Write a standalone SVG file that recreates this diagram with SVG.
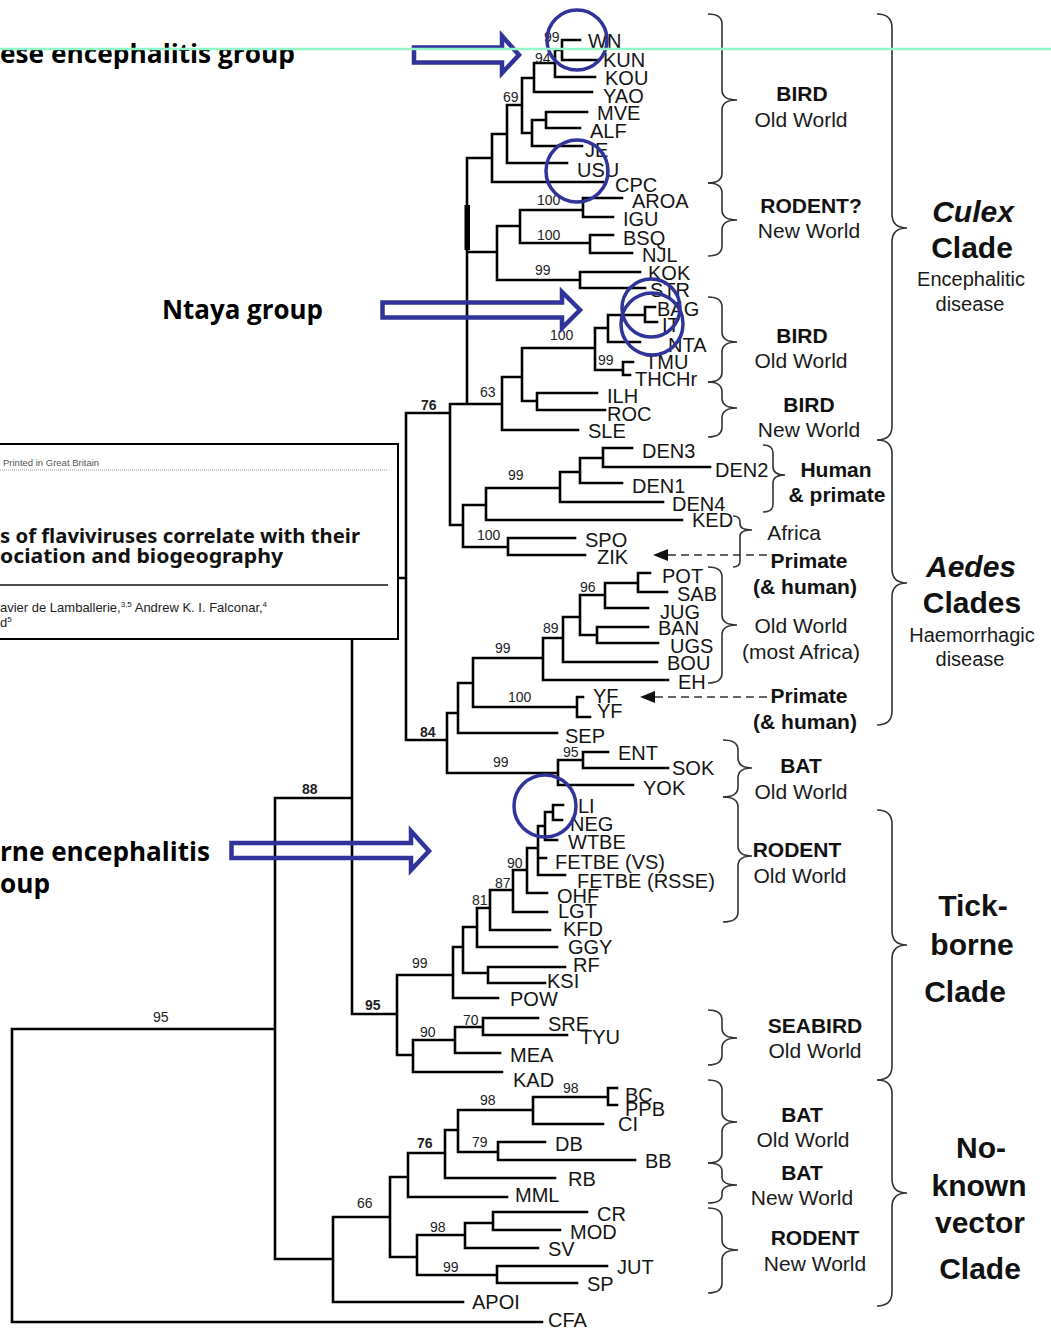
<svg xmlns="http://www.w3.org/2000/svg" width="1051" height="1329" viewBox="0 0 1051 1329">
<style>
.t{font-family:"Liberation Sans",Arial,sans-serif;font-size:20px;fill:#151515}
.s{font-family:"Liberation Sans",Arial,sans-serif;font-size:14px;fill:#222}
.sb{font-family:"Liberation Sans",Arial,sans-serif;font-size:14px;font-weight:bold;fill:#222}
.r{font-family:"Liberation Sans",Arial,sans-serif;font-size:21px;fill:#1a1a1a;text-anchor:middle}
.rb{font-family:"Liberation Sans",Arial,sans-serif;font-size:21px;font-weight:bold;fill:#111;text-anchor:middle}
.big{font-family:"Liberation Sans",Arial,sans-serif;font-size:30px;font-weight:bold;fill:#111;text-anchor:middle}
.it{font-style:italic}
.dz{font-family:"Open Sans","Noto Sans",sans-serif;font-size:27px;font-weight:bold;fill:#000}
.brace{fill:none;stroke:#333;stroke-width:1.6}
.tree{fill:none;stroke:#000;stroke-width:2.6;stroke-linecap:square}
.hl{fill:none;stroke:#30339A;stroke-width:4.5}
.ring{fill:none;stroke:#30339A;stroke-width:3.5}
.dash{fill:none;stroke:#333;stroke-width:1.6;stroke-dasharray:8 5}
</style>
<rect width="1051" height="1329" fill="#fff"/>
<g id="connectors">
<path class="tree" d="M12 1029V1322M12 1029H275M12 1322H542
M275 798V1259M275 798H352M275 1259H333
M352 578V1014M352 578H406M352 1014H397
M406 413V740M406 413H450M406 740H447
M450 404V525M450 404H502M450 525H463
M467 158V404M467 158H492M467 252H497
M492 134V182M492 134H507M492 182H603
M507 105V163M507 105H522M507 163H567
M522 78V133M522 78H534M522 133H532
M534 63V92M534 63H555M534 92H592
M555 50V77M555 50H562M555 77H595
M562 40V60M562 40H580M562 60H597
M532 120V146M532 120H546M532 146H582
M546 112V128M546 112H587M546 128H580
M497 226V280M497 226H520M497 280H580
M520 210V243M520 210H583M520 243H590
M583 198V217M583 198H622M583 217H613
M590 235V253M590 235H613M590 253H632
M580 272V288M580 272H640M580 288H645
M502 377V430M502 377H522M502 430H578
M522 348V401M522 348H595M522 401H537
M537 393V410M537 393H597M537 410H605
M595 328V370M595 328H608M595 370H623
M608 315V342M608 315H645M608 342H640
M645 307V322M645 307H655M645 322H657
M623 362V375M623 362H633M623 375H630
M463 505V547M463 505H486M463 547H508
M486 488V520M486 488H560M486 520H682
M560 472V502M560 472H580M560 502H663
M580 458V483M580 458H603M580 483H622
M603 448V467M603 448H632M603 467H710
M508 538V555M508 538H575M508 555H585
M447 713V773M447 713H458M447 773H558
M458 683V733M458 683H473M458 733H557
M473 658V707M473 658H543M473 707H577
M543 638V680M543 638H563M543 680H668
M563 617V662M563 617H580M563 662H657
M580 595V635M580 595H605M580 635H597
M605 583V608M605 583H638M605 608H648
M638 573V592M638 573H650M638 592H667
M597 627V643M597 627H648M597 643H658
M577 697V717M577 697H583M577 717H590
M558 760V785M558 760H583M558 785H633
M583 752V768M583 752H608M583 768H668
M397 975V1055M397 975H453M397 1055H413
M453 947V998M453 947H463M453 998H498
M463 927V973M463 927H477M463 973H488
M488 967V983M488 967H565M488 983H545
M477 908V947M477 908H490M477 947H557
M490 890V930M490 890H513M490 930H550
M513 870V912M513 870H527M513 912H547
M527 848V893M527 848H538M527 893H547
M538 826V875M538 826H545M538 858H546M538 875H565
M545 812V840M545 812H553M545 840H557
M553 805V820M553 805H563M553 820H562
M413 1040V1072M413 1040H455M413 1072H502
M455 1027V1053M455 1027H483M455 1053H500
M483 1018V1035M483 1018H538M483 1035H567
M333 1217V1302M333 1217H390M333 1302H463
M390 1177V1257M390 1177H408M390 1257H417
M408 1153V1197M408 1153H445M408 1197H507
M445 1130V1178M445 1130H458M445 1178H555
M458 1110V1152M458 1110H533M458 1152H498
M533 1097V1124M533 1097H608M533 1124H603
M608 1088V1105M608 1088H617M608 1105H617
M498 1142V1160M498 1142H545M498 1160H635
M417 1235V1275M417 1235H465M417 1275H497
M465 1223V1248M465 1223H493M465 1248H538
M493 1212V1230M493 1212H587M493 1230H560
M497 1266V1283M497 1266H607M497 1283H577"/>
<rect x="464.5" y="205" width="5.5" height="45" fill="#000"/>
<path class="dash" d="M668 555H768M655 697H768"/>
<polygon points="653,555 668,549 668,561" fill="#111"/>
<polygon points="640,697 655,691 655,703" fill="#111"/>
</g>
<g id="paper-header">
<rect x="-2" y="444" width="400" height="195" fill="#fff" stroke="#000" stroke-width="2"/>
<text x="3" y="466" style="font-family:'Liberation Sans',Arial,sans-serif;font-size:9.5px;fill:#555">Printed in Great Britain</text>
<path d="M0 470H388" stroke="#999" stroke-width="1" stroke-dasharray="1 1"/>
<text x="0" y="543" textLength="360" lengthAdjust="spacingAndGlyphs" style="font-family:'Noto Sans',sans-serif;font-size:20px;font-weight:bold;fill:#111">s of flaviviruses correlate with their</text>
<text x="0" y="563" textLength="283" lengthAdjust="spacingAndGlyphs" style="font-family:'Noto Sans',sans-serif;font-size:20px;font-weight:bold;fill:#111">ociation and biogeography</text>
<path d="M0 585H388" stroke="#111" stroke-width="1.5"/>
<text x="0" y="612" style="font-family:'Liberation Sans',Arial,sans-serif;font-size:13px;fill:#222">avier de Lamballerie,<tspan font-size="8" dy="-5">3,5</tspan><tspan dy="5"> Andrew K. I. Falconar,</tspan><tspan font-size="8" dy="-5">4</tspan></text>
<text x="0" y="627" style="font-family:'Liberation Sans',Arial,sans-serif;font-size:13px;fill:#222">d<tspan font-size="8" dy="-5">5</tspan></text>
</g>
<g id="leaves" class="t">
<g id="n-WN"><text x="588" y="48">WN</text></g>
<g id="n-KUN"><text x="603" y="67">KUN</text></g>
<g id="n-KOU"><text x="605" y="85">KOU</text></g>
<g id="n-YAO"><text x="603" y="103">YAO</text></g>
<g id="n-MVE"><text x="597" y="120">MVE</text></g>
<g id="n-ALF"><text x="590" y="138">ALF</text></g>
<g id="n-JE"><text x="585" y="157">JE</text></g>
<g id="n-USU"><text x="577" y="177">USU</text></g>
<g id="n-CPC"><text x="615" y="192">CPC</text></g>
<g id="n-AROA"><text x="632" y="208">AROA</text></g>
<g id="n-IGU"><text x="623" y="226">IGU</text></g>
<g id="n-BSQ"><text x="623" y="245">BSQ</text></g>
<g id="n-NJL"><text x="642" y="262">NJL</text></g>
<g id="n-KOK"><text x="648" y="280">KOK</text></g>
<g id="n-STR"><text x="650" y="297">STR</text></g>
<g id="n-BAG"><text x="657" y="316">BAG</text></g>
<g id="n-IT"><text x="662" y="332">IT</text></g>
<g id="n-NTA"><text x="668" y="352">NTA</text></g>
<g id="n-TMU"><text x="645" y="369">TMU</text></g>
<g id="n-THCHr"><text x="635" y="386">THCHr</text></g>
<g id="n-ILH"><text x="607" y="403">ILH</text></g>
<g id="n-ROC"><text x="607" y="421">ROC</text></g>
<g id="n-SLE"><text x="588" y="438">SLE</text></g>
<g id="n-DEN3"><text x="642" y="458">DEN3</text></g>
<g id="n-DEN2"><text x="715" y="477">DEN2</text></g>
<g id="n-DEN1"><text x="632" y="493">DEN1</text></g>
<g id="n-DEN4"><text x="672" y="511">DEN4</text></g>
<g id="n-KED"><text x="692" y="527">KED</text></g>
<g id="n-SPO"><text x="585" y="547">SPO</text></g>
<g id="n-ZIK"><text x="597" y="564">ZIK</text></g>
<g id="n-POT"><text x="662" y="583">POT</text></g>
<g id="n-SAB"><text x="677" y="601">SAB</text></g>
<g id="n-JUG"><text x="660" y="619">JUG</text></g>
<g id="n-BAN"><text x="658" y="635">BAN</text></g>
<g id="n-UGS"><text x="670" y="653">UGS</text></g>
<g id="n-BOU"><text x="667" y="670">BOU</text></g>
<g id="n-EH"><text x="678" y="689">EH</text></g>
<g id="n-YF1"><text x="593" y="703">YF</text></g>
<g id="n-YF2"><text x="597" y="718">YF</text></g>
<g id="n-SEP"><text x="565" y="743">SEP</text></g>
<g id="n-ENT"><text x="618" y="760">ENT</text></g>
<g id="n-SOK"><text x="672" y="775">SOK</text></g>
<g id="n-YOK"><text x="643" y="795">YOK</text></g>
<g id="n-LI"><text x="578" y="813">LI</text></g>
<g id="n-NEG"><text x="570" y="831">NEG</text></g>
<g id="n-WTBE"><text x="568" y="849">WTBE</text></g>
<g id="n-FETBE-VS"><text x="555" y="869">FETBE (VS)</text></g>
<g id="n-FETBE-RSSE"><text x="577" y="888">FETBE (RSSE)</text></g>
<g id="n-OHF"><text x="557" y="903">OHF</text></g>
<g id="n-LGT"><text x="558" y="918">LGT</text></g>
<g id="n-KFD"><text x="563" y="936">KFD</text></g>
<g id="n-GGY"><text x="568" y="954">GGY</text></g>
<g id="n-RF"><text x="573" y="972">RF</text></g>
<g id="n-KSI"><text x="547" y="988">KSI</text></g>
<g id="n-POW"><text x="510" y="1006">POW</text></g>
<g id="n-SRE"><text x="548" y="1031">SRE</text></g>
<g id="n-TYU"><text x="580" y="1044">TYU</text></g>
<g id="n-MEA"><text x="510" y="1062">MEA</text></g>
<g id="n-KAD"><text x="513" y="1087">KAD</text></g>
<g id="n-BC"><text x="625" y="1102">BC</text></g>
<g id="n-PPB"><text x="625" y="1116">PPB</text></g>
<g id="n-CI"><text x="618" y="1131">CI</text></g>
<g id="n-DB"><text x="555" y="1151">DB</text></g>
<g id="n-BB"><text x="645" y="1168">BB</text></g>
<g id="n-RB"><text x="568" y="1186">RB</text></g>
<g id="n-MML"><text x="515" y="1202">MML</text></g>
<g id="n-CR"><text x="597" y="1221">CR</text></g>
<g id="n-MOD"><text x="570" y="1239">MOD</text></g>
<g id="n-SV"><text x="548" y="1256">SV</text></g>
<g id="n-JUT"><text x="617" y="1274">JUT</text></g>
<g id="n-SP"><text x="587" y="1291">SP</text></g>
<g id="n-APOI"><text x="472" y="1309">APOI</text></g>
<g id="n-CFA"><text x="548" y="1327">CFA</text></g>
</g>
<g id="support-values">
<text class="s" x="544" y="42">99</text>
<text class="s" x="535" y="63">94</text>
<text class="s" x="503" y="102">69</text>
<text class="s" x="537" y="205">100</text>
<text class="s" x="537" y="240">100</text>
<text class="s" x="535" y="275">99</text>
<text class="s" x="550" y="340">100</text>
<text class="s" x="598" y="365">99</text>
<text class="s" x="480" y="397">63</text>
<text class="sb" x="421" y="410">76</text>
<text class="s" x="508" y="480">99</text>
<text class="s" x="477" y="540">100</text>
<text class="s" x="580" y="592">96</text>
<text class="s" x="543" y="633">89</text>
<text class="s" x="495" y="653">99</text>
<text class="s" x="508" y="702">100</text>
<text class="sb" x="420" y="737">84</text>
<text class="s" x="563" y="757">95</text>
<text class="s" x="493" y="767">99</text>
<text class="sb" x="302" y="794">88</text>
<text class="s" x="507" y="868">90</text>
<text class="s" x="495" y="888">87</text>
<text class="s" x="472" y="905">81</text>
<text class="s" x="412" y="968">99</text>
<text class="sb" x="365" y="1010">95</text>
<text class="s" x="153" y="1022">95</text>
<text class="s" x="463" y="1025">70</text>
<text class="s" x="420" y="1037">90</text>
<text class="s" x="563" y="1093">98</text>
<text class="s" x="480" y="1105">98</text>
<text class="s" x="472" y="1147">79</text>
<text class="sb" x="417" y="1148">76</text>
<text class="s" x="357" y="1208">66</text>
<text class="s" x="430" y="1232">98</text>
<text class="s" x="443" y="1272">99</text>
</g>
<g id="braces">
<path class="brace" d="M708 14Q722 14 722 24V90Q722 100 737 100Q722 100 722 110V173Q722 183 708 183"/>
<path class="brace" d="M708 183Q722 183 722 193V210Q722 220 737 220Q722 220 722 230V246Q722 256 708 256"/>
<path class="brace" d="M708 297Q722 297 722 307V332Q722 342 737 342Q722 342 722 352V372Q722 382 708 382"/>
<path class="brace" d="M708 382Q722 382 722 392V398Q722 408 737 408Q722 408 722 418V427Q722 437 708 437"/>
<path class="brace" d="M763 445Q773 445 773 453V467Q773 475 785 475Q773 475 773 483V504Q773 512 763 512"/>
<path class="brace" d="M733 516Q740 516 740 522V524Q740 530 752 530Q740 530 740 536V561Q740 567 733 567"/>
<path class="brace" d="M708 567Q722 567 722 577V615Q722 625 737 625Q722 625 722 635V673Q722 683 708 683"/>
<path class="brace" d="M723 740Q738 740 738 750V758Q738 768 752 768Q738 768 738 778V787Q738 797 723 797"/>
<path class="brace" d="M723 797Q738 797 738 807V846Q738 856 752 856Q738 856 738 866V912Q738 922 723 922"/>
<path class="brace" d="M708 1010Q722 1010 722 1020V1028Q722 1038 737 1038Q722 1038 722 1048V1055Q722 1065 708 1065"/>
<path class="brace" d="M708 1080Q722 1080 722 1090V1112Q722 1122 737 1122Q722 1122 722 1132V1153Q722 1163 708 1163"/>
<path class="brace" d="M708 1163Q722 1163 722 1171V1177Q722 1185 737 1185Q722 1185 722 1193V1195Q722 1203 708 1203"/>
<path class="brace" d="M708 1208Q722 1208 722 1218V1240Q722 1250 738 1250Q722 1250 722 1260V1283Q722 1293 708 1293"/>
<path class="brace" d="M877 14Q892 14 892 28V214Q892 228 907 228Q892 228 892 242V426Q892 440 877 440"/>
<path class="brace" d="M877 440Q892 440 892 454V569Q892 583 907 583Q892 583 892 597V711Q892 725 877 725"/>
<path class="brace" d="M877 810Q892 810 892 824V931Q892 945 907 945Q892 945 892 959V1066Q892 1080 877 1080"/>
<path class="brace" d="M877 1080Q892 1080 892 1094V1179Q892 1193 907 1193Q892 1193 892 1207V1292Q892 1306 877 1306"/>
</g>
<g id="host-labels">
<g id="h-bird-ow1"><text class="rb" x="802" y="101">BIRD</text><text class="r" x="801" y="127">Old World</text></g>
<g id="h-rodent-nw"><text class="rb" x="811" y="213">RODENT?</text><text class="r" x="809" y="238">New World</text></g>
<g id="h-bird-ow2"><text class="rb" x="802" y="343">BIRD</text><text class="r" x="801" y="368">Old World</text></g>
<g id="h-bird-nw"><text class="rb" x="809" y="412">BIRD</text><text class="r" x="809" y="437">New World</text></g>
<g id="h-human"><text class="rb" x="836" y="477">Human</text><text class="rb" x="837" y="502">&amp; primate</text></g>
<g id="h-africa"><text class="r" x="794" y="540">Africa</text></g>
<g id="h-primate1"><text class="rb" x="809" y="568">Primate</text><text class="rb" x="805" y="594">(&amp; human)</text></g>
<g id="h-ow-africa"><text class="r" x="801" y="633">Old World</text><text class="r" x="801" y="659">(most Africa)</text></g>
<g id="h-primate2"><text class="rb" x="809" y="703">Primate</text><text class="rb" x="805" y="729">(&amp; human)</text></g>
<g id="h-bat-ow1"><text class="rb" x="801" y="773">BAT</text><text class="r" x="801" y="799">Old World</text></g>
<g id="h-rodent-ow"><text class="rb" x="797" y="857">RODENT</text><text class="r" x="800" y="883">Old World</text></g>
<g id="h-seabird"><text class="rb" x="815" y="1033">SEABIRD</text><text class="r" x="815" y="1058">Old World</text></g>
<g id="h-bat-ow2"><text class="rb" x="802" y="1122">BAT</text><text class="r" x="803" y="1147">Old World</text></g>
<g id="h-bat-nw"><text class="rb" x="802" y="1180">BAT</text><text class="r" x="802" y="1205">New World</text></g>
<g id="h-rodent-nw2"><text class="rb" x="815" y="1245">RODENT</text><text class="r" x="815" y="1271">New World</text></g>
</g>
<g id="clade-labels">
<g id="c-culex"><text class="big it" x="973" y="222">Culex</text><text class="big" x="972" y="258">Clade</text><text class="r" x="971" y="286" style="font-size:20px">Encephalitic</text><text class="r" x="970" y="311" style="font-size:20px">disease</text></g>
<g id="c-aedes"><text class="big it" x="971" y="577">Aedes</text><text class="big" x="972" y="613">Clades</text><text class="r" x="972" y="642" style="font-size:20px">Haemorrhagic</text><text class="r" x="970" y="666" style="font-size:20px">disease</text></g>
<g id="c-tick"><text class="big" x="973" y="916">Tick-</text><text class="big" x="972" y="955">borne</text><text class="big" x="965" y="1002">Clade</text></g>
<g id="c-nkv"><text class="big" x="981" y="1158">No-</text><text class="big" x="979" y="1196">known</text><text class="big" x="980" y="1233">vector</text><text class="big" x="980" y="1279">Clade</text></g>
</g>
<g id="group-callouts">
<g id="je-group"><text class="dz" x="0" y="63" textLength="295" lengthAdjust="spacingAndGlyphs">ese encephalitis group</text><path class="hl" d="M414 47.5H502V36L519 55L502 73V62.5H414Z"/></g>
<g id="ntaya-group"><text class="dz" x="162" y="319" textLength="161" lengthAdjust="spacingAndGlyphs">Ntaya group</text><path class="hl" d="M382.5 302.5H562V292L580 310L562 328V317.5H382.5Z"/></g>
<g id="tbe-group"><text class="dz" x="0" y="861" textLength="210" lengthAdjust="spacingAndGlyphs">rne encephalitis</text><text class="dz" x="0" y="893" textLength="50" lengthAdjust="spacingAndGlyphs">oup</text><path class="hl" d="M231.5 843H411V831L429 851L411 870V858H231.5Z"/></g>
<circle class="ring" cx="577" cy="40" r="30"/>
<circle class="ring" cx="577" cy="171" r="31"/>
<circle class="ring" cx="651" cy="308" r="29"/>
<circle class="ring" cx="652" cy="324" r="31"/>
<circle class="ring" cx="545" cy="806" r="31"/>
</g>
<path id="guide-line" d="M0 49H1051" stroke="#94F7C9" stroke-width="2.5"/>
</svg>
